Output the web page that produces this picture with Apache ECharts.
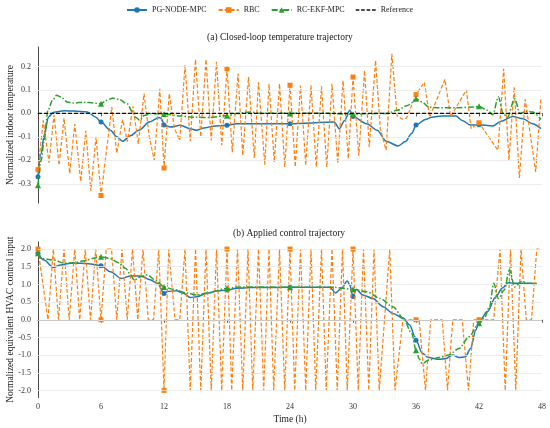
<!DOCTYPE html>
<html><head><meta charset="utf-8">
<script src="https://cdn.jsdelivr.net/npm/echarts@6/dist/echarts.min.js"></script>
<style>html,body{margin:0;padding:0;background:#fff}#c{width:550px;height:428px}</style>
</head><body><div id="c"></div>
<script>
const seriesNames = ['PG-NODE-MPC', 'RBC', 'RC-EKF-MPC', 'Reference'];
const hourTicks = [0, 6, 12, 18, 24, 30, 36, 42, 48];
const tempTicks = [-0.3, -0.2, -0.1, 0.0, 0.1, 0.2];
const ctrlTicks = [-2.0, -1.5, -1.0, -0.5, 0.0, 0.5, 1.0, 1.5, 2.0];
const titles = ['(a) Closed-loop temperature trajectory', '(b) Applied control trajectory'];
const axisNames = ['Normalized indoor temperature', 'Normalized equivalent HVAC control input', 'Time (h)'];

// (a) temperature, [hour, value]
const tempPG = [[0,-0.27],[0.3,-0.17],[0.6,-0.09],[1.0,-0.015],[1.5,0.005],[2.5,0.011],[3.4,0.01],[4.7,0.006],[5.5,-0.016],[6,-0.037],[6.9,-0.072],[7.5,-0.1],[8.05,-0.119],[8.85,-0.094],[9.6,-0.072],[10.6,-0.037],[11.55,-0.017],[11.8,-0.025],[12,-0.05],[12.6,-0.058],[13.55,-0.051],[14.5,-0.065],[15.1,-0.072],[15.8,-0.062],[16.7,-0.055],[18,-0.051],[18.9,-0.044],[21.1,-0.044],[24,-0.044],[28.2,-0.037],[28.7,-0.065],[29.2,-0.03],[29.7,0.013],[30,-0.013],[31.3,-0.044],[32.3,-0.072],[33.2,-0.12],[34.3,-0.139],[35.0,-0.12],[35.6,-0.085],[36,-0.05],[36.9,-0.026],[37.5,-0.016],[38.5,-0.011],[39.8,-0.011],[40.4,-0.03],[41.2,-0.05],[42,-0.048],[43.3,-0.054],[44.1,-0.034],[45.2,-0.013],[46.2,-0.023],[47.1,-0.044],[47.9,-0.065]];
const tempRBC = [[0,-0.24],[0.5,-0.03],[1.05,-0.21],[1.53,-0.006],[2.0,-0.22],[2.48,-0.02],[3.02,-0.257],[3.5,-0.045],[4.07,-0.29],[4.55,-0.074],[5.03,-0.33],[5.53,-0.1],[6,-0.35],[7.03,0.027],[7.5,-0.17],[8.05,-0.026],[8.52,-0.12],[9.05,0.03],[9.55,-0.13],[10.1,0.084],[10.6,-0.1],[11.07,-0.2],[11.6,0.105],[12,-0.233],[12.5,0.084],[13.0,-0.065],[13.5,-0.115],[14,0.205],[14.5,-0.12],[15,0.23],[15.5,-0.1],[16,0.23],[16.5,-0.115],[17,0.22],[17.5,-0.136],[18,0.19],[18.5,-0.165],[19.05,0.17],[19.5,-0.18],[20.05,0.155],[20.6,-0.19],[21,0.133],[21.6,-0.22],[22,0.126],[22.5,-0.207],[23,0.126],[23.5,-0.228],[24,0.12],[24.5,-0.228],[25,0.119],[25.5,-0.22],[26,0.12],[26.5,-0.228],[27,0.116],[27.5,-0.228],[28,0.126],[28.55,-0.214],[29.05,0.14],[29.55,-0.193],[30,0.155],[30.55,-0.18],[31.1,0.183],[31.55,-0.143],[32.15,0.225],[32.6,-0.065],[33.15,-0.157],[33.7,0.254],[34.2,-0.01],[34.7,-0.025],[35.1,-0.02],[36,0.08],[36.8,0.133],[37.3,-0.016],[38.75,0.145],[39.3,-0.014],[40.8,0.1],[41.25,-0.065],[42,-0.04],[43.8,-0.157],[44.35,0.19],[44.85,-0.2],[45.35,0.113],[45.85,-0.275],[46.4,0.06],[47.4,-0.25],[47.9,0.065]];
const tempEKF = [[0,-0.306],[0.3,-0.2],[0.57,-0.12],[0.95,0.013],[1.37,0.055],[1.78,0.077],[2.16,0.07],[2.8,0.048],[3.4,0.044],[4.4,0.048],[5.3,0.044],[6,0.041],[6.5,0.055],[7.1,0.065],[7.7,0.06],[8.5,0.041],[9.0,0.006],[9.3,-0.016],[9.7,-0.03],[10.1,-0.009],[10.75,-0.001],[12,-0.003],[13.55,-0.011],[14.8,-0.016],[16.4,-0.018],[17.6,-0.011],[18,-0.01],[18.9,-0.001],[20.2,0.006],[21.1,0.001],[24,0.0],[27,0.001],[30,-0.004],[31,-0.002],[33.3,0.0],[34.2,0.013],[35.2,0.034],[35.8,0.05],[36,0.062],[36.6,0.048],[37.2,0.027],[38.2,0.024],[39.8,0.024],[41.4,0.027],[42,0.03],[42.8,0.013],[43.3,-0.006],[43.85,0.07],[44.3,-0.001],[44.7,-0.016],[45.4,0.062],[45.9,-0.001],[46.5,0.009],[47.1,0.006],[47.9,-0.026]];
const tempRef = [[0,0],[48,0]];

// (b) control input, [hour, value]
const ctrlPG = [[0,1.88],[0.57,1.69],[1.46,1.48],[2.16,1.55],[3.1,1.6],[4.07,1.6],[5.0,1.58],[6,1.53],[6.9,1.36],[7.94,1.17],[8.83,1.24],[9.8,1.24],[10.6,1.14],[11.4,1.03],[12,0.74],[12.3,0.8],[13.2,0.82],[13.85,0.75],[14.5,0.63],[15.1,0.65],[16.1,0.75],[17,0.81],[18,0.84],[18.9,0.89],[20.2,0.91],[24,0.92],[27.8,0.92],[28.35,0.76],[28.9,0.89],[29.46,1.1],[29.7,0.98],[30,0.66],[30.3,0.86],[30.95,0.7],[31.9,0.6],[32.86,0.37],[33.8,0.18],[34.8,0.04],[35.4,-0.15],[35.9,-0.48],[36,-0.58],[36.6,-0.95],[37.2,-1.07],[38.2,-1.12],[38.8,-1.1],[39.5,-1.0],[40.1,-1.07],[40.7,-1.05],[41.2,-0.81],[41.7,-0.29],[42,-0.05],[42.8,0.23],[43.6,0.65],[44.2,0.89],[44.8,1.05],[45.5,1.03],[46.45,1.03],[47.5,1.01]];
const ctrlRBC = [[0,2],[0.95,0],[1.46,2],[1.95,0],[2.48,2],[2.97,0],[3.5,2],[3.97,0],[4.5,2],[5.0,0],[5.5,2],[6,0],[6.5,2],[7.0,2],[7.5,0],[8,2],[8.5,0],[9,2],[9.5,0],[10,2],[10.5,0],[11,0],[11.5,2],[12,-2],[12.45,2],[13.05,0],[13.5,0],[14,2],[14.5,-2],[15,2],[15.5,-2],[16,2],[16.5,-2],[17,2],[17.5,-2],[18,2],[18.45,-2],[19,2],[19.5,-2],[20,2],[20.45,-2],[21,2],[21.5,-2],[22,2],[22.45,-2],[23,2],[23.5,-2],[24,2],[24.45,-2],[25,2],[25.5,-2],[26,2],[26.45,-2],[27,2],[27.45,-2],[28,2],[28.5,-2],[29,2],[29.45,-2],[30,2],[30.5,-2],[31,2],[31.5,-2],[32,2],[32.5,-2],[33.5,2],[34,-2],[34.75,0],[36,0],[36.3,0],[36.9,-2],[37.4,0],[38.5,0],[39,-2],[39.5,0],[40.4,0],[41,-2],[41.5,0],[42,0],[43.4,0],[44,2],[44.5,-2],[45,2],[45.5,-2],[46,2],[46.5,0],[47,0],[47.5,2],[47.75,2]];
const ctrlEKF = [[0,1.88],[0.25,1.74],[1.5,1.69],[2.5,1.6],[3.4,1.61],[4.4,1.67],[5.3,1.74],[6,1.78],[6.8,1.74],[7.7,1.61],[8.36,1.45],[8.83,1.27],[9.15,1.12],[9.8,1.22],[10.4,1.27],[11.2,1.12],[12,0.93],[12.9,0.86],[14.2,0.76],[15.1,0.7],[16.1,0.76],[18,0.89],[19.3,0.93],[24,0.92],[28.1,0.92],[30,0.86],[30.3,0.84],[31.3,0.79],[32.6,0.6],[33.8,0.37],[34.8,0.04],[35.6,-0.39],[36,-0.86],[36.3,-1.1],[36.6,-1.24],[37.2,-1.14],[38.2,-1.07],[39.1,-1.0],[40.1,-0.81],[41.05,-0.48],[42,-0.1],[42.5,0.04],[43.0,0.37],[43.4,1.03],[43.85,0.6],[44.4,0.84],[44.9,1.41],[45.4,0.93],[46.05,1.08],[46.7,1.03],[47.6,1.03]];

const FONT = "'Liberation Serif', 'DejaVu Serif', serif";
const BLUE = '#1f77b4', ORANGE = '#ff7f0e', GREEN = '#2ca02c', BLACK = '#111';
const DASH = [4, 2], DASHDOT = [6, 2, 1.5, 2];

function isMarker(t) { return t < 47.9 && Math.abs(t / 6 - Math.round(t / 6)) < 1e-9; }
function mSize(s) { return function (v) { return isMarker(v[0]) ? s : 0; }; }

const chart = echarts.init(document.getElementById('c'), null, { renderer: 'canvas' });

function xAxis(idx, labels) {
  return {
    type: 'value', gridIndex: idx, min: hourTicks[0], max: hourTicks[hourTicks.length - 1], interval: 6,
    axisLine: { show: true, lineStyle: { color: '#333', width: 0.9 } },
    axisTick: { show: true, length: 3, lineStyle: { color: '#333', width: 0.8 } },
    axisLabel: { show: labels, fontSize: 8, margin: 5, color: '#333', fontFamily: FONT },
    splitLine: { show: false },
    name: labels ? axisNames[2] : '', nameLocation: 'middle', nameGap: 17, nameMoveOverlap: false,
    nameTextStyle: { fontSize: 9.5, color: '#222', fontFamily: FONT }
  };
}
function yAxis(idx, min, max, ticks, name) {
  return {
    type: 'value', gridIndex: idx, min: min, max: max,
    axisLine: { show: true, lineStyle: { color: '#333', width: 0.9 } },
    axisTick: { show: false },
    axisLabel: { show: true, customValues: ticks, fontSize: 8, margin: 7, color: '#333', fontFamily: FONT,
      formatter: function (v) { return v.toFixed(1); } },
    splitLine: { show: false },
    name: name, nameLocation: 'middle', nameGap: 23, nameRotate: 90, nameMoveOverlap: false,
    nameTextStyle: { fontSize: 9.5, color: '#222', fontFamily: FONT }
  };
}
function gridSeries(idx, ticks) {
  return {
    type: 'line', name: '_grid' + idx, xAxisIndex: idx, yAxisIndex: idx, data: [], silent: true, z: 1,
    markLine: { silent: true, symbol: ['none', 'none'], label: { show: false }, animation: false,
      lineStyle: { color: '#e9e9e9', width: 0.8, type: 'solid' },
      data: ticks.map(function (v) { return { yAxis: v }; }) }
  };
}
function lineSeries(idx, name, data, color, sym, size, dash, width, smooth, z) {
  return {
    type: 'line', name: name, xAxisIndex: idx, yAxisIndex: idx, data: data,
    symbol: sym, symbolSize: mSize(size), showSymbol: true, showAllSymbol: true,
    smooth: smooth, smoothMonotone: 'x',
    lineStyle: { color: color, width: width, type: dash },
    itemStyle: { color: color }, z: z, silent: true
  };
}

const option = {
  animation: false,
  backgroundColor: '#fff',
  textStyle: { fontFamily: FONT },
  title: [
    { text: titles[0], left: 207, top: 32, padding: 0, textStyle: { fontSize: 9.5, fontWeight: 'normal', color: '#222', fontFamily: FONT } },
    { text: titles[1], left: 233, top: 228, padding: 0, textStyle: { fontSize: 9.5, fontWeight: 'normal', color: '#222', fontFamily: FONT } }
  ],
  legend: {
    top: 6, left: 126, padding: 0, itemWidth: 20, itemHeight: 7, itemGap: 11,
    textStyle: { fontSize: 8, color: '#222', fontFamily: FONT },
    data: [
      { name: seriesNames[0] },
      { name: seriesNames[1] },
      { name: seriesNames[2] },
      { name: seriesNames[3], icon: 'path://M0,0h4v1.4H0z M6,0h4v1.4H6z M12,0h4v1.4H12z M18,0h4v1.4H18z' }
    ]
  },
  grid: [
    { left: 38, right: 8, top: 47, height: 156, outerBoundsMode: 'none', containLabel: false },
    { left: 38, right: 8, top: 242, height: 155.5, outerBoundsMode: 'none', containLabel: false }
  ],
  xAxis: [xAxis(0, false), xAxis(1, true)],
  yAxis: [yAxis(0, -0.382, 0.283, tempTicks, axisNames[0]), yAxis(1, -2.2, 2.2, ctrlTicks, axisNames[1])],
  series: [
    gridSeries(0, tempTicks),
    gridSeries(1, ctrlTicks),
    lineSeries(0, seriesNames[0], tempPG, BLUE, 'circle', 5, 'solid', 1.5, 0.3, 3),
    lineSeries(0, seriesNames[1], tempRBC, ORANGE, 'rect', 5, DASH, 1.2, false, 4),
    lineSeries(0, seriesNames[2], tempEKF, GREEN, 'triangle', 6, DASHDOT, 1.5, 0.3, 5),
    Object.assign(lineSeries(0, seriesNames[3], tempRef, BLACK, 'none', 0, DASH, 1.2, false, 6), { symbol: 'none' }),
    lineSeries(1, seriesNames[0], ctrlPG, BLUE, 'circle', 5, 'solid', 1.5, 0.3, 3),
    lineSeries(1, seriesNames[1], ctrlRBC, ORANGE, 'rect', 5, DASH, 1.2, false, 4),
    lineSeries(1, seriesNames[2], ctrlEKF, GREEN, 'triangle', 6, DASHDOT, 1.5, 0.3, 5)
  ]
};
chart.setOption(option);
</script></body></html>
